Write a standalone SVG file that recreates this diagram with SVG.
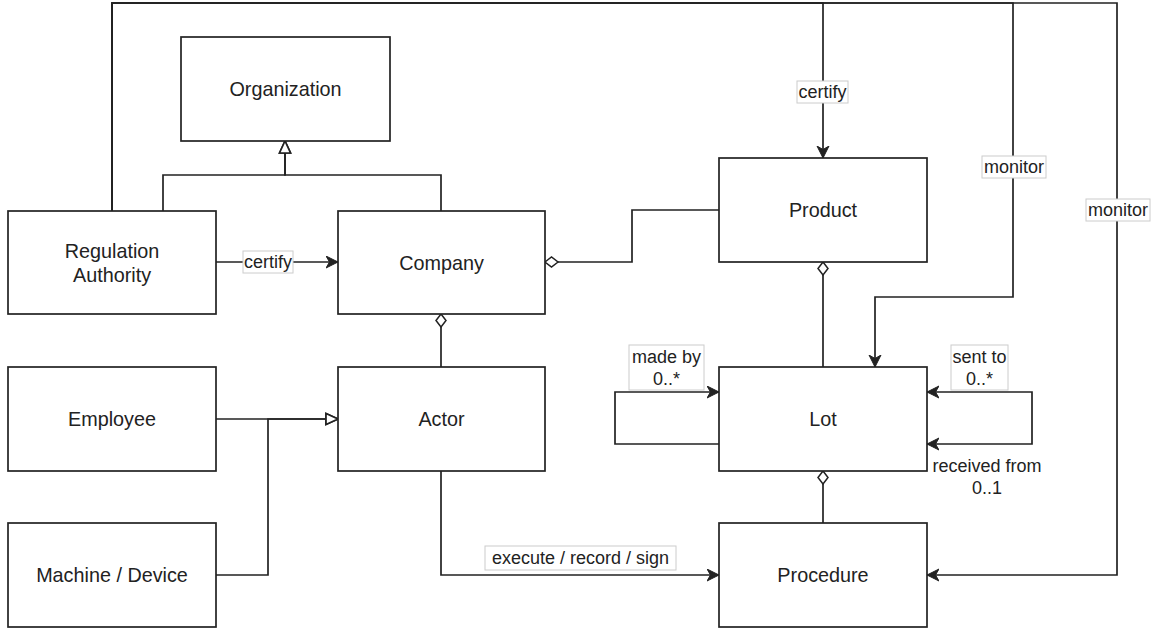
<svg xmlns="http://www.w3.org/2000/svg" width="1161" height="632" viewBox="0 0 1161 632">
<style>
.node rect{fill:#fff;stroke:#222;stroke-width:1.7}
.node text{font-family:"Liberation Sans",Arial,sans-serif;font-size:19.8px;fill:#222;text-anchor:middle;dominant-baseline:central}
.edge{fill:none;stroke:#222;stroke-width:1.7}
.lbl rect{fill:#fff;stroke:#ccc;stroke-width:1}
.lbl text,.lt{font-family:"Liberation Sans",Arial,sans-serif;font-size:18px;fill:#222;text-anchor:middle;dominant-baseline:central}
</style>
<defs>
<marker id="arr" markerUnits="userSpaceOnUse" markerWidth="14" markerHeight="14" refX="12" refY="6.5" orient="auto" viewBox="0 0 14 14">
<path d="M0,0.5 L12,6.5 L0,12.5 L3.5,6.5 Z" fill="#222" stroke="#222" stroke-width="1"/>
</marker>
<marker id="gen" markerUnits="userSpaceOnUse" markerWidth="16" markerHeight="16" refX="13" refY="7" orient="auto" viewBox="0 0 16 16">
<path d="M1,1.5 L13,7 L1,12.5 Z" fill="#fff" stroke="#222" stroke-width="1.7"/>
</marker>
<marker id="agg" markerUnits="userSpaceOnUse" markerWidth="16" markerHeight="14" refX="1" refY="6.5" orient="auto" viewBox="0 0 16 14">
<path d="M1,6.5 L7.5,1.5 L14,6.5 L7.5,11.5 Z" fill="#fff" stroke="#222" stroke-width="1.5"/>
</marker>
</defs>
<g id="connectors">
<path class="edge" d="M112,211 V3 H823 V158" marker-end="url(#arr)"/>
<path class="edge" d="M112,211 V3 H1013 V297 H875 V367" marker-end="url(#arr)"/>
<path class="edge" d="M112,211 V3 H1117 V575 H927" marker-end="url(#arr)"/>
<path class="edge" d="M163,211 V175 H285 V141" marker-end="url(#gen)"/>
<path class="edge" d="M441,211 V175 H285 V141" marker-end="url(#gen)"/>
<path class="edge" d="M216,262 H338" marker-end="url(#arr)"/>
<path class="edge" d="M545,262 H632 V210 H719" marker-start="url(#agg)"/>
<path class="edge" d="M441,314 V367" marker-start="url(#agg)"/>
<path class="edge" d="M216,419 H338" marker-end="url(#gen)"/>
<path class="edge" d="M216,575 H268 V419 H338" marker-end="url(#gen)"/>
<path class="edge" d="M441,471 V575 H719" marker-end="url(#arr)"/>
<path class="edge" d="M823,262 V367" marker-start="url(#agg)"/>
<path class="edge" d="M823,471 V523" marker-start="url(#agg)"/>
<path class="edge" d="M719,444 H615 V392 H719" marker-end="url(#arr)"/>
<path class="edge" d="M1032,418 V392 H927" marker-end="url(#arr)"/>
<path class="edge" d="M1032,418 V444 H927" marker-end="url(#arr)"/>
<g class="lbl"><rect x="797" y="81" width="51" height="22"/><text x="822.5" y="92">certify</text></g>
<g class="lbl"><rect x="982" y="156" width="64" height="22"/><text x="1014" y="167">monitor</text></g>
<g class="lbl"><rect x="1086" y="199" width="64" height="22"/><text x="1118" y="210">monitor</text></g>
<g class="lbl"><rect x="243" y="251" width="50" height="22"/><text x="268" y="262">certify</text></g>
<g class="lbl"><rect x="485" y="546" width="191" height="24"/><text x="580.5" y="558">execute / record / sign</text></g>
<g class="lbl"><rect x="629" y="345" width="75" height="45"/><text x="666.5" y="357">made by</text><text x="666.5" y="379">0..*</text></g>
<g class="lbl"><rect x="951" y="345" width="57" height="45"/><text x="979.5" y="357">sent to</text><text x="979.5" y="379">0..*</text></g>
<text class="lt" x="987" y="466">received from</text>
<text class="lt" x="987" y="488">0..1</text>
</g>
<g id="organization" class="node"><rect x="181" y="37" width="209" height="104"/><text x="285.5" y="89">Organization</text></g>
<g id="regulation-authority" class="node"><rect x="8" y="211" width="208" height="103"/><text x="112" y="251">Regulation</text><text x="112" y="275">Authority</text></g>
<g id="company" class="node"><rect x="338" y="211" width="207" height="103"/><text x="441.5" y="263">Company</text></g>
<g id="product" class="node"><rect x="719" y="158" width="208" height="104"/><text x="823" y="210">Product</text></g>
<g id="employee" class="node"><rect x="8" y="367" width="208" height="104"/><text x="112" y="419">Employee</text></g>
<g id="actor" class="node"><rect x="338" y="367" width="207" height="104"/><text x="441.5" y="419">Actor</text></g>
<g id="lot" class="node"><rect x="719" y="367" width="208" height="104"/><text x="823" y="419">Lot</text></g>
<g id="machine-device" class="node"><rect x="8" y="523" width="208" height="104"/><text x="112" y="575">Machine / Device</text></g>
<g id="procedure" class="node"><rect x="719" y="523" width="208" height="104"/><text x="823" y="575">Procedure</text></g>
</svg>
